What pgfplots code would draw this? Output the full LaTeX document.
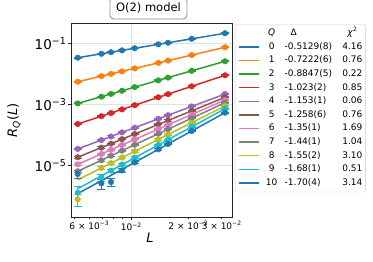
\documentclass[border=0pt]{standalone}
\usepackage{pgfplots}
\pgfplotsset{compat=1.18}
\usepackage{pgfplotstable}
\usepackage{fontspec}
\setmainfont{DejaVu Sans}
\definecolor{C0}{HTML}{1F77B4}
\definecolor{C1}{HTML}{FF7F0E}
\definecolor{C2}{HTML}{2CA02C}
\definecolor{C3}{HTML}{D62728}
\definecolor{C4}{HTML}{9467BD}
\definecolor{C5}{HTML}{8C564B}
\definecolor{C6}{HTML}{E377C2}
\definecolor{C7}{HTML}{7F7F7F}
\definecolor{C8}{HTML}{BCBD22}
\definecolor{C9}{HTML}{17BECF}

\pgfplotstableread{
x y e
0.0052083 0.03379 0.04
0.0069444 0.04539 0.04
0.0078125 0.05122 0.04
0.0089286 0.05874 0.04
0.0104167 0.06881 0.04
0.0138889 0.09241 0.04
0.015625 0.1043 0.04
0.0208333 0.1401 0.04
0.03125 0.2123 0.04
}\dQa
\pgfplotstableread{
x y e
0.0052083 0.005560 0.04
0.0069444 0.008424 0.04
0.0078125 0.009986 0.04
0.0089286 0.01211 0.04
0.0104167 0.01513 0.04
0.0138889 0.02293 0.04
0.015625 0.02718 0.04
0.0208333 0.04119 0.04
0.03125 0.07396 0.04
}\dQb
\pgfplotstableread{
x y e
0.0052083 0.001084 0.04
0.0069444 0.001804 0.04
0.0078125 0.002222 0.04
0.0089286 0.002814 0.04
0.0104167 0.003696 0.04
0.0138889 0.006150 0.04
0.015625 0.007575 0.04
0.0208333 0.01260 0.04
0.03125 0.02582 0.04
}\dQc
\pgfplotstableread{
x y e
0.0052083 2.301e-4 0.04
0.0069444 4.146e-4 0.04
0.0078125 5.275e-4 0.04
0.0089286 6.933e-4 0.04
0.0104167 9.502e-4 0.04
0.0138889 0.001712 0.04
0.015625 0.002178 0.04
0.0208333 0.003923 0.04
0.03125 0.008995 0.04
}\dQd
\pgfplotstableread{
x y e
0.0052083 3.537e-5 0.05
0.0069444 6.866e-5 0.04
0.0078125 9.008e-5 0.04
0.0089286 1.226e-4 0.04
0.0104167 1.749e-4 0.04
0.0138889 3.395e-4 0.04
0.015625 4.455e-4 0.04
0.0208333 8.649e-4 0.04
0.03125 0.002203 0.04
}\dQe
\pgfplotstableread{
x y e
0.0052083 1.893e-5 0.06
0.0069444 3.904e-5 0.05
0.0078125 5.251e-5 0.05
0.0089286 7.346e-5 0.04
0.0104167 1.083e-4 0.04
0.0138889 2.234e-4 0.04
0.015625 3.003e-4 0.04
0.0208333 6.194e-4 0.04
0.03125 0.001718 0.04
}\dQf
\pgfplotstableread{
x y e
0.0052083 1.112e-5 0.08
0.0069444 2.417e-5 0.06
0.0078125 3.322e-5 0.05
0.0089286 4.764e-5 0.05
0.0104167 7.223e-5 0.04
0.0138889 1.571e-4 0.04
0.015625 2.159e-4 0.04
0.0208333 4.694e-4 0.04
0.03125 0.001403 0.04
}\dQg
\pgfplotstableread{
x y e
0.0052083 6.576e-6 0.10
0.0069444 1.506e-5 0.07
0.0078125 2.114e-5 0.06
0.0089286 3.105e-5 0.05
0.0104167 4.840e-5 0.05
0.0138889 1.109e-4 0.04
0.015625 1.556e-4 0.04
0.0208333 3.564e-4 0.04
0.03125 0.0011455 0.04
}\dQh
\pgfplotstableread{
x y e
0.0052083 7.98e-7 0.43
0.0069444 8.435e-6 0.10
0.0078125 1.215e-5 0.08
0.0089286 1.838e-5 0.07
0.0104167 2.964e-5 0.06
0.0138889 7.231e-5 0.05
0.015625 1.042e-4 0.05
0.0208333 2.542e-4 0.04
0.03125 8.933e-4 0.04
}\dQi
\pgfplotstableread{
x y e
0.0052083 1.31e-6 0.65
0.0069444 4.2e-6 0.25
0.0078125 6.920e-6 0.12
0.0089286 1.084e-5 0.09
0.0104167 1.819e-5 0.07
0.0138889 4.782e-5 0.05
0.015625 7.104e-5 0.05
0.0208333 1.868e-4 0.04
0.03125 7.295e-4 0.04
}\dQj
\pgfplotstableread{
x y e
0.0052083 5.36e-6 0.28
0.0069444 2.66e-6 0.38
0.0078125 2.93e-6 0.27
0.0089286 7.0e-6 0.17
0.0104167 1.288e-5 0.08
0.0138889 3.424e-5 0.05
0.015625 5.111e-5 0.05
0.0208333 1.359e-4 0.04
0.03125 5.395e-4 0.04
}\dQk

\newcommand{\qseries}[5]{%
  \addplot[#1, only marks, mark=*, mark size=2.8pt, forget plot,
    error bars/.cd, y dir=both, y explicit relative,
    error bar style={line width=1pt,#1},
    error mark options={rotate=90,mark size=4pt,line width=1pt,#1}]
    table[x=x,y=y,y error=e]{#2};
  \addplot[#1, line width=1.5pt, no markers] coordinates {(0.0052083,#3)(0.03125,#4)};
  \addlegendentry{#5}%
}
\newcommand{\lrow}[3]{\makebox[24pt][c]{#1}\hspace{1pt}\makebox[57pt][l]{#2}\makebox[20.7pt][r]{#3}}

\begin{document}
\begin{tikzpicture}
\useasboundingbox (0,0) rectangle (373pt,262pt);
\begin{axis}[
  at={(71pt,45pt)}, anchor=south west,
  scale only axis, width=161pt, height=194pt,
  xmode=log, ymode=log,
  xmin=4.80e-3, xmax=0.03401, ymin=2.11e-7, ymax=0.46,
  xtick={0.01}, xticklabels={10\textsuperscript{−2}},
  extra x ticks={0.006,0.02,0.03},
  extra x tick labels={6 × 10\textsuperscript{−3},2 × 10\textsuperscript{−2},3 × 10\textsuperscript{−2}},
  extra x tick style={grid=none, major tick length=2pt},
  minor xtick={0.005,0.007,0.008,0.009},
  ytick={1e-1,1e-3,1e-5},
  yticklabels={10\textsuperscript{−1},10\textsuperscript{−3},10\textsuperscript{−5}},
  yminorticks=false,
  tick align=outside, tick pos=left,
  major tick length=3.5pt, minor tick length=2pt,
  tick style={black!85, line width=0.8pt},
  axis line style={black!85, line width=0.8pt},
  grid=major, major grid style={black!12, line width=0.8pt},
  yticklabel style={font=\fontsize{13.5}{16}\selectfont, inner sep=1pt},
  xticklabel style={font=\fontsize{9}{11}\selectfont, inner sep=2pt},
  xlabel={\textit{L}},
  xlabel style={font=\fontsize{13}{15}\selectfont, at={(axis description cs:0.49,-0.108)}, anchor=center},
  ylabel={\textit{R}\textsubscript{\textit{Q}}(\textit{L})},
  ylabel style={font=\fontsize{13}{15}\selectfont, at={(axis description cs:-0.354,0.5)}, anchor=center},
  title={O(2) model},
  title style={font=\fontsize{11.5}{14}\selectfont, at={(axis description cs:0.481,1.046)}, anchor=center,
    draw=black!45, line width=0.8pt, rounded corners=4pt, fill=white, minimum width=77pt, minimum height=22pt},
  legend image code/.code={\draw[#1] (0pt,0pt) -- (20pt,0pt);},
  legend style={at={(axis description cs:1,1)}, anchor=north west, xshift=3pt, yshift=-1pt,
    draw=black!20, rounded corners=2pt, fill=white, font=\fontsize{9}{11}\selectfont,
    inner xsep=3pt, inner ysep=4.5pt, row sep=4.4pt,
    nodes={inner sep=0pt, text height=7pt, text depth=2.2pt}, cells={anchor=west}},
]
\addlegendimage{empty legend}
\addlegendentry{\lrow{\textit{Q}}{\hspace{6pt}Δ}{\textit{χ}\textsuperscript{2}\hspace{5pt}}}
\qseries{C0}{\dQa}{0.03379}{0.2123}{\lrow{0}{-0.5129(8)}{4.16}}
\qseries{C1}{\dQb}{0.005560}{0.07396}{\lrow{1}{-0.7222(6)}{0.76}}
\qseries{C2}{\dQc}{0.001084}{0.02582}{\lrow{2}{-0.8847(5)}{0.22}}
\qseries{C3}{\dQd}{2.301e-4}{0.008995}{\lrow{3}{-1.023(2)}{0.85}}
\qseries{C4}{\dQe}{3.537e-5}{0.002203}{\lrow{4}{-1.153(1)}{0.06}}
\qseries{C5}{\dQf}{1.893e-5}{0.001718}{\lrow{5}{-1.258(6)}{0.76}}
\qseries{C6}{\dQg}{1.112e-5}{0.001403}{\lrow{6}{-1.35(1)}{1.69}}
\qseries{C7}{\dQh}{6.576e-6}{0.0011455}{\lrow{7}{-1.44(1)}{1.04}}
\qseries{C8}{\dQi}{3.457e-6}{8.933e-4}{\lrow{8}{-1.55(2)}{3.10}}
\qseries{C9}{\dQj}{1.772e-6}{7.295e-4}{\lrow{9}{-1.68(1)}{0.51}}
\qseries{C0}{\dQk}{1.220e-6}{5.395e-4}{\lrow{10}{-1.70(4)}{3.14}}
\end{axis}
\end{tikzpicture}
\end{document}
